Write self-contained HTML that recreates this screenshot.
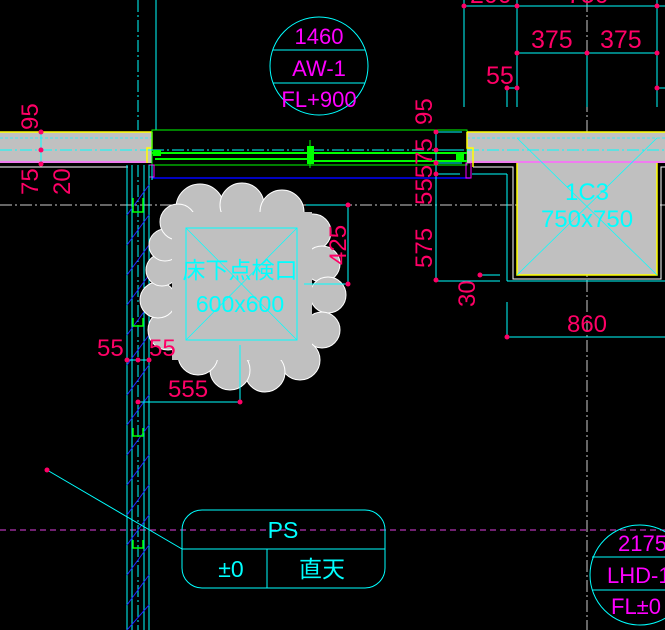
<!DOCTYPE html>
<html><head><meta charset="utf-8"><style>
html,body{margin:0;padding:0;background:#000;width:665px;height:630px;overflow:hidden}
svg{display:block}
text{font-family:"Liberation Sans","Noto Sans CJK JP",sans-serif}
</style></head><body>
<svg width="665" height="630" viewBox="0 0 665 630" xmlns="http://www.w3.org/2000/svg">
<rect width="665" height="630" fill="#000"/>
<line x1="0" y1="205" x2="665" y2="205" stroke="#ccc" stroke-width="1" stroke-dasharray="12,3,2,3"/>
<line x1="587" y1="0" x2="587" y2="630" stroke="#ccc" stroke-width="1" stroke-dasharray="12,3,2,3"/>
<line x1="0" y1="530" x2="665" y2="530" stroke="#e040e0" stroke-width="1" stroke-dasharray="6,4"/>
<line x1="138" y1="0" x2="138" y2="130" stroke="#0ff" stroke-dasharray="12,3,2,3"/>
<line x1="156" y1="0" x2="156" y2="130" stroke="#0ff"/>

<rect x="0" y="132" width="152" height="31" fill="#c0c0c0"/>
<line x1="0" y1="132" x2="152" y2="132" stroke="#ff0" stroke-width="1.5"/>
<line x1="0" y1="162" x2="148" y2="162" stroke="#f6f" stroke-width="1.5"/>
<line x1="0" y1="167" x2="128" y2="167" stroke="#fff"/>
<line x1="0" y1="150" x2="152" y2="150" stroke="#0ff" stroke-dasharray="12,3,2,3"/>
<line x1="0" y1="138" x2="152" y2="138" stroke="#0ff" stroke-dasharray="3,2" opacity=".7"/>
<polyline points="152,132 152,148 147,148 147,163" fill="none" stroke="#ff0" stroke-width="1.5"/>
<line x1="41" y1="132" x2="41" y2="165" stroke="#0ff"/>
<circle cx="41" cy="132" r="2.5" fill="#f06"/><circle cx="41" cy="150" r="2.5" fill="#f06"/><circle cx="41" cy="164" r="2.5" fill="#f06"/>
<g fill="#f06" font-size="24">
<text transform="translate(38,130) rotate(-90)">95</text>
<text transform="translate(38,195) rotate(-90)">75</text>
<text transform="translate(70,195) rotate(-90)">20</text>
</g>

<rect x="152" y="130" width="315" height="35" fill="none" stroke="#0f0"/>
<line x1="152" y1="150" x2="467" y2="150" stroke="#0ff" stroke-dasharray="12,3,2,3"/>
<line x1="152" y1="153" x2="467" y2="153" stroke="#0f0" stroke-width="2"/>
<line x1="155" y1="159" x2="310" y2="159" stroke="#0f0" stroke-width="2"/>
<line x1="310" y1="161" x2="467" y2="161" stroke="#0f0" stroke-width="2"/>
<rect x="153" y="150" width="8" height="6" fill="#0f0"/>
<rect x="307" y="146" width="7" height="18" fill="#0f0"/>
<line x1="310" y1="140" x2="310" y2="168" stroke="#0f0"/>
<rect x="456" y="152" width="8" height="10" fill="#0f0"/>
<line x1="152" y1="178" x2="470" y2="178" stroke="#00f" stroke-width="1.5"/>
<rect x="149" y="165" width="5" height="12" fill="none" stroke="#f0f"/>
<rect x="466" y="163" width="5" height="15" fill="none" stroke="#f0f"/>
<line x1="470" y1="133" x2="470" y2="145" stroke="#f0f" stroke-dasharray="2,2"/>

<g stroke="#0ff">
<line x1="127" y1="165" x2="127" y2="630"/><line x1="132" y1="165" x2="132" y2="630"/>
<line x1="144" y1="165" x2="144" y2="630"/><line x1="149" y1="165" x2="149" y2="630"/>
<line x1="138" y1="165" x2="138" y2="630" stroke-dasharray="12,3,2,3"/>
<line x1="152" y1="165" x2="152" y2="180"/>
</g>
<g stroke="#22f">
<line x1="127" y1="215" x2="149" y2="185"/><line x1="127" y1="245" x2="149" y2="215"/><line x1="127" y1="275" x2="149" y2="245"/>
<line x1="127" y1="305" x2="149" y2="275"/><line x1="127" y1="335" x2="149" y2="305"/><line x1="127" y1="365" x2="149" y2="335"/>
<line x1="127" y1="395" x2="149" y2="365"/><line x1="127" y1="425" x2="149" y2="395"/><line x1="127" y1="455" x2="149" y2="425"/>
<line x1="127" y1="485" x2="149" y2="455"/><line x1="127" y1="515" x2="149" y2="485"/><line x1="127" y1="545" x2="149" y2="515"/>
<line x1="127" y1="575" x2="149" y2="545"/><line x1="127" y1="605" x2="149" y2="575"/><line x1="127" y1="630" x2="149" y2="605"/>
</g>
<g fill="none" stroke="#0f0" stroke-width="1.5">
<polyline points="133,198 133,212 143,212 143,198"/>
<polyline points="133,318 133,326 143,326 143,318"/>
<polyline points="133,428 133,436 143,436 143,428"/>
<polyline points="133,540 133,548 143,548 143,540"/>
</g>

<g fill="#c0c0c0" stroke="#fff" stroke-width="1">
<circle cx="200" cy="208" r="24"/><circle cx="242" cy="205" r="22"/><circle cx="282" cy="212" r="22"/>
<circle cx="313" cy="232" r="18"/><circle cx="322" cy="264" r="18"/><circle cx="328" cy="295" r="18"/>
<circle cx="322" cy="330" r="18"/><circle cx="300" cy="360" r="20"/><circle cx="265" cy="372" r="20"/>
<circle cx="230" cy="370" r="20"/><circle cx="198" cy="355" r="20"/><circle cx="168" cy="330" r="20"/>
<circle cx="158" cy="300" r="18"/><circle cx="162" cy="270" r="16"/><circle cx="165" cy="245" r="16"/>
<circle cx="178" cy="222" r="18"/>
</g>
<rect x="172" y="212" width="140" height="148" fill="#c0c0c0"/>
<rect x="186" y="228" width="111" height="112" fill="none" stroke="#0ff"/>
<line x1="186" y1="228" x2="297" y2="340" stroke="#0ff" stroke-width=".7"/>
<line x1="297" y1="228" x2="186" y2="340" stroke="#0ff" stroke-width="0.7"/>
<text x="240" y="278" fill="#0ff" font-size="23" text-anchor="middle">床下点検口</text>
<text x="240" y="312" fill="#0ff" font-size="23" text-anchor="middle">600x600</text>

<g stroke="#0ff">
<line x1="306" y1="205" x2="348" y2="205"/><line x1="304" y1="284" x2="348" y2="284"/>
<line x1="348" y1="205" x2="348" y2="284"/>
<line x1="240" y1="345" x2="240" y2="402"/>
<line x1="138" y1="402" x2="240" y2="402"/>
<line x1="127" y1="360" x2="149" y2="360"/>
<line x1="47" y1="470" x2="182" y2="549"/>
</g>
<circle cx="348" cy="205" r="2.5" fill="#f06"/><circle cx="348" cy="284" r="2.5" fill="#f06"/>
<circle cx="138" cy="402" r="2.5" fill="#f06"/><circle cx="240" cy="402" r="2.5" fill="#f06"/>
<circle cx="127" cy="360" r="2.5" fill="#f06"/><circle cx="138" cy="360" r="2.5" fill="#f06"/><circle cx="149" cy="360" r="2.5" fill="#f06"/>
<circle cx="47" cy="470" r="2.5" fill="#f06"/>
<g fill="#f06" font-size="24">
<text transform="translate(346,265) rotate(-90)">425</text>
<text x="97" y="356">55</text>
<text x="149" y="356">55</text>
<text x="168" y="397">555</text>
</g>

<rect x="182" y="510" width="203" height="78" rx="20" fill="none" stroke="#0ff"/>
<line x1="182" y1="549" x2="385" y2="549" stroke="#0ff"/>
<line x1="267" y1="549" x2="267" y2="588" stroke="#0ff"/>
<text x="283" y="538" fill="#0ff" font-size="23" text-anchor="middle">PS</text>
<text x="231" y="577" fill="#0ff" font-size="23" text-anchor="middle">±0</text>
<text x="322" y="577" fill="#0ff" font-size="23" text-anchor="middle">直天</text>

<circle cx="319" cy="66" r="49" fill="none" stroke="#0ff"/>
<line x1="273" y1="50" x2="365" y2="50" stroke="#0ff"/>
<line x1="273" y1="83" x2="365" y2="83" stroke="#0ff"/>
<g fill="#f0f" font-size="22" text-anchor="middle">
<text x="319" y="44">1460</text><text x="319" y="76">AW-1</text><text x="319" y="107">FL+900</text>
</g>

<g stroke="#0ff">
<line x1="464" y1="6" x2="665" y2="6"/><line x1="517" y1="53" x2="657" y2="53"/>
<line x1="464" y1="0" x2="464" y2="107"/><line x1="517" y1="0" x2="517" y2="107"/>
<line x1="657" y1="0" x2="657" y2="107"/><line x1="507" y1="88" x2="507" y2="107"/>
<line x1="507" y1="88" x2="517" y2="88"/><line x1="657" y1="88" x2="665" y2="88"/>
<line x1="587" y1="53" x2="587" y2="107"/>
</g>
<g fill="#f06">
<circle cx="464" cy="6" r="2.5"/><circle cx="517" cy="6" r="2.5"/><circle cx="657" cy="6" r="2.5"/>
<circle cx="517" cy="53" r="2.5"/><circle cx="587" cy="53" r="2.5"/><circle cx="657" cy="53" r="2.5"/>
<circle cx="507" cy="88" r="2.5"/><circle cx="517" cy="88" r="2.5"/><circle cx="657" cy="88" r="2.5"/>
</g>
<g fill="#f06" font-size="25">
<text x="531" y="48">375</text><text x="600" y="48">375</text><text x="486" y="84">55</text>
<text x="470" y="3">200</text><text x="567" y="3">750</text>
</g>

<rect x="467" y="132" width="198" height="31" fill="#c0c0c0"/>
<rect x="517" y="163" width="140" height="112" fill="#c0c0c0"/>
<line x1="467" y1="132" x2="665" y2="132" stroke="#ff0" stroke-width="1.5"/>
<line x1="470" y1="162" x2="665" y2="162" stroke="#f6f" stroke-width="1.5"/>
<line x1="467" y1="150" x2="665" y2="150" stroke="#0ff" stroke-dasharray="12,3,2,3"/>
<line x1="467" y1="138" x2="665" y2="138" stroke="#0ff" stroke-dasharray="3,2" opacity=".7"/>
<polyline points="517,163 517,275 657,275 657,163" fill="none" stroke="#ff0" stroke-width="1.5"/>
<polyline points="473,167 513,167 513,279 661,279 661,167 665,167" fill="none" stroke="#fff"/>
<polyline points="467,132 467,148 473,148 473,167" fill="none" stroke="#ff0" stroke-width="1.5"/>
<line x1="517" y1="138" x2="657" y2="275" stroke="#0ff" stroke-width=".7"/>
<line x1="657" y1="138" x2="517" y2="275" stroke="#0ff" stroke-width=".7"/>
<text x="587" y="200" fill="#0ff" font-size="24" text-anchor="middle">1C3</text>
<text x="587" y="227" fill="#0ff" font-size="24" text-anchor="middle">750x750</text>

<g stroke="#0ff">
<line x1="436" y1="132" x2="436" y2="281"/>
<line x1="436" y1="132" x2="462" y2="132"/><line x1="436" y1="150" x2="462" y2="150"/>
<line x1="436" y1="163" x2="462" y2="163"/><line x1="436" y1="174" x2="460" y2="174"/>
<line x1="472" y1="174" x2="507" y2="174"/><line x1="507" y1="174" x2="507" y2="281"/>
<line x1="436" y1="281" x2="500" y2="281"/><line x1="480" y1="275" x2="500" y2="275"/>
<line x1="507" y1="281" x2="665" y2="281"/>
<line x1="507" y1="302" x2="507" y2="337"/><line x1="507" y1="337" x2="665" y2="337"/>
</g>
<g fill="#f06">
<circle cx="436" cy="132" r="2.5"/><circle cx="436" cy="150" r="2.5"/><circle cx="436" cy="163" r="2.5"/>
<circle cx="436" cy="174" r="2.5"/><circle cx="436" cy="280" r="2.5"/><circle cx="480" cy="275" r="2.5"/>
<circle cx="507" cy="337" r="2.5"/>
</g>
<g fill="#f06" font-size="24">
<text transform="translate(432,125) rotate(-90)">95</text>
<text transform="translate(432,205) rotate(-90)">55575</text>
<text transform="translate(432,268) rotate(-90)">575</text>
<text transform="translate(475,307) rotate(-90)">30</text>
<text x="587" y="332" text-anchor="middle">860</text>
</g>

<circle cx="640" cy="575" r="50" fill="none" stroke="#0ff"/>
<line x1="592" y1="557" x2="665" y2="557" stroke="#0ff"/>
<line x1="592" y1="590" x2="665" y2="590" stroke="#0ff"/>
<g fill="#f0f" font-size="22">
<text x="618" y="551">2175</text><text x="607" y="583">LHD-1</text><text x="611" y="614">FL±0</text>
</g>
</svg>
</body></html>
